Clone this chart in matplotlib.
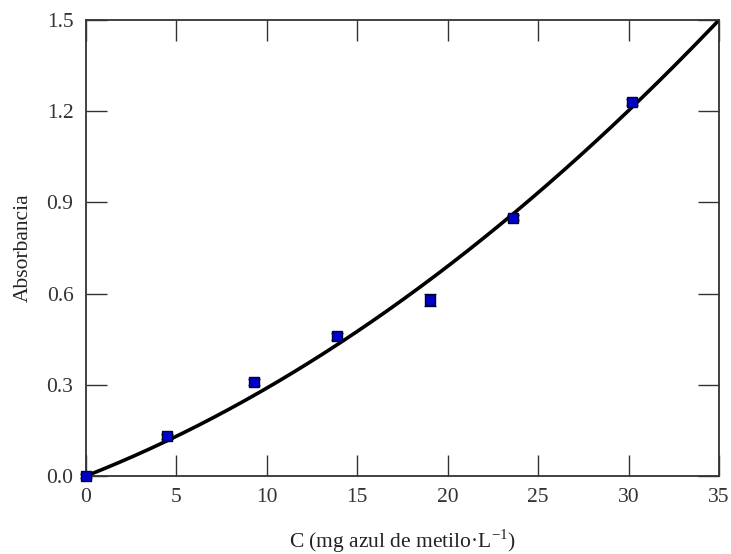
import numpy as np
import matplotlib.pyplot as plt

plt.rcParams['font.family'] = ['Liberation Serif', 'DejaVu Serif']

# datos experimentales
conc = [0.0, 4.5, 9.3, 13.9, 19.0, 23.6, 30.2]
absorb = [0.0, 0.13, 0.31, 0.46, 0.58, 0.85, 1.23]
err = [0.005, 0.008, 0.010, 0.012, 0.020, 0.008, 0.010]

# ajuste A = a*C + b*C^2
coef_a = 0.02336
coef_b = 0.000557

fig = plt.figure(figsize=(7.31, 5.54), dpi=100)
ax = fig.add_axes([0.1176, 0.1408, 0.866, 0.8231])

xc = np.linspace(0, 35, 200)
ax.plot(xc, coef_a * xc + coef_b * xc**2, color='black', lw=2.6, zorder=2)

ax.errorbar(conc, absorb, yerr=err, fmt='s', ms=7, mfc='#0000cc', mec='#000033',
            mew=1, ecolor='#000033', elinewidth=1, capsize=4, zorder=3,
            clip_on=False)

ax.set_xlim(0, 35)
ax.set_ylim(0, 1.5)
ax.set_xticks([0, 5, 10, 15, 20, 25, 30, 35])
ax.set_yticks([0.0, 0.3, 0.6, 0.9, 1.2, 1.5])
ax.set_yticklabels(['0.0', '0.3', '0.6', '0.9', '1.2', '1.5'])
ax.tick_params(direction='in', top=True, right=True, length=15, width=1,
               labelsize=15.5, colors='#333333', pad=9)
for s in ax.spines.values():
    s.set_linewidth(1.3)
    s.set_color('#333333')

ax.set_xlabel('C (mg azul de metilo·L$^{\\mathregular{-1}}$)', fontsize=15.5,
              color='#222222', labelpad=14)
ax.set_ylabel('Absorbancia', fontsize=15.5, color='#222222', labelpad=10)

fig.savefig('out.png', dpi=100)
